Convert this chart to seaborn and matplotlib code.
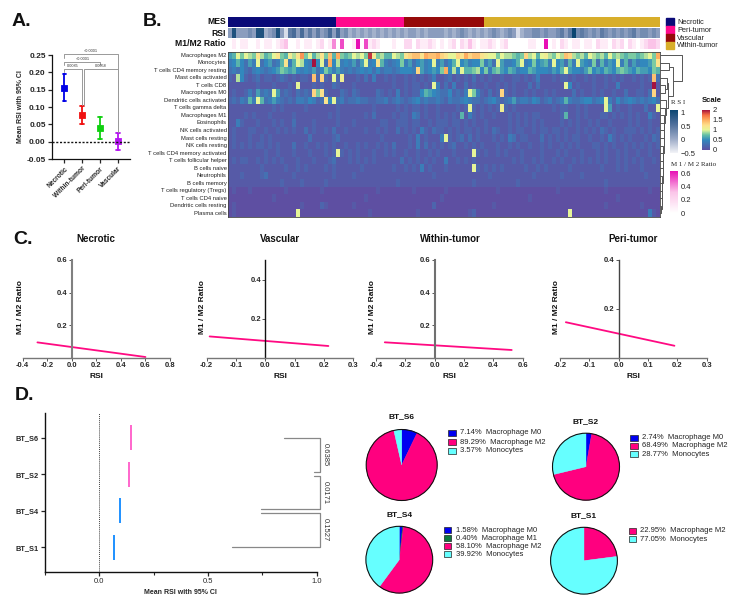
import numpy as np
import pandas as pd
import matplotlib
matplotlib.use('Agg')
import matplotlib.pyplot as plt
from matplotlib.cm import ScalarMappable
from matplotlib.colors import LinearSegmentedColormap, ListedColormap, Normalize
from matplotlib.patches import Circle, Rectangle
import seaborn as sns

sns.set_theme(style='white')
plt.rcParams['font.family'] = ['Liberation Sans', 'DejaVu Sans']

W, H = 738, 603

# Panel A
a_groups = ['Necrotic', 'Within-tumor', 'Peri-tumor', 'Vascular']
a_mean = [0.155, 0.077, 0.040, 0.001]
a_low = [0.117, 0.052, 0.008, -0.025]
a_high = [0.195, 0.102, 0.071, 0.026]
a_colors = ['#0000e6', '#f01010', '#10d010', '#b414f0']

# Panel B, one character per sample, base 36, tenths of the scale
cell_types = ['Macrophages M2', 'Monocytes', 'T cells CD4 memory resting', 'Mast cells activated',
              'T cells CD8', 'Macrophages M0', 'Dendritic cells activated', 'T cells gamma delta',
              'Macrophages M1', 'Eosinophils', 'NK cells activated', 'Mast cells resting',
              'NK cells resting', 'T cells CD4 memory activated', 'T cells follicular helper',
              'B cells naive', 'Neutrophils', 'B cells memory', 'T cells regulatory (Tregs)',
              'T cells CD4 naive', 'Dendritic cells resting', 'Plasma cells']
heat_rows = [
    '67a8a98c97 8ac87b9cg8 a79c8e7f87 8a9a8jb897 7a98cdeecf eefdcaadcf deecbaa8a9 9878d9a7ab 98a9ed9897 a9897a8987 88789a8f',
    '4575364a35 6347c47a95 4k5a3f5945 4636a45c74 3458463564 5a46357a56 4558463a64 457a458567 4a56374a65 4837465a47 3645568c',
    '3435324543 4568767545 4635864643 4345453534 4345554d64 5658f595a7 7895847865 7645576555 4657a65546 8565765787 65766587',
    '2195212312 2123212122 1e2d21a2b1 1121314112 1211212121 2411231212 1312121121 1221212411 1212212112 1211212121 121212e3',
    '1111111211 1211121a11 1212113211 1211111111 1211212212 1a41314113 1211211212 1211131311 1111a51211 1211211411 111211k1',
    '1211242634 3a62321323 2d8c211132 1321111321 2141212257 6543352324 a8421312d2 1211212112 1211113121 1212112113 112213d1',
    '2324374a73 4643232443 5423c5a342 3343322334 2343234534 3343243345 4332345323 4634435423 4234743345 5345a42534 54343453',
    '1111111111 1212111112 1111111211 1111112111 1121212212 1121111212 a2121212b2 1211111111 1212211212 1111a61211 2111311a',
    '1111212111 2111112111 1111121211 1111213111 1212214312 1121212171 4212112111 2121212211 1112711212 1112212121 21211421',
    '1142111211 1212113111 1211111211 1211111122 1122212211 2122212212 1211211111 2121212121 1112121211 2121121111 21211211',
    '1211122112 1121212113 1211213112 1111211212 1131212142 1322121212 2121213211 2122112122 1221211212 1213212112 22121212',
    '1211121121 2111111111 3111112311 1111111121 1111121412 1114a21231 3121112121 4312211131 2121212211 2112142121 21112132',
    '1212121221 2121113112 1121212112 1121211212 1311121413 1212123112 1212111211 2121121121 2112121211 1221212112 12121212',
    '1111111112 1121112111 2111212a21 2121112112 1211211211 2121112111 1a21211212 1112111121 1121211121 1121211212 11211211',
    '1212211212 1212111211 1211123111 2121212111 1113121212 1211411212 1211111111 1212112121 1212112121 2121211212 12121121',
    '1111111121 1111211212 1111212111 1112111111 1211212141 2111211111 1a21212121 1111211212 1111121111 1112111212 11121111',
    '1112111123 1111112111 1111112111 1211111111 1111111111 1211111111 1111121111 1111112111 1112111121 1111111111 11112111',
    '1111111111 1112111121 1111211111 1111111111 1121111111 1111111111 1211111111 1121111111 1111111111 1111211111 11111111',
    '0100010000 0000100000 0001000000 0000000100 0000001000 0000100000 0000000100 0000000000 0010000000 0000100000 00000100',
    '0000000000 0100000000 0000000000 0000100000 0000000000 0001000000 0000000000 0000010000 0000000000 0000000100 00000000',
    '0100000000 0000000010 0002100000 0100000000 0000000000 0200000000 0000001000 0000000000 0000000000 0000100000 00010000',
    '0100000000 0000000a00 0000000000 0000010000 0000000100 0000000000 1200000000 0000000000 00000a0000 0000000000 00000410',
]
rsi_row = '3833343882 3483056363 5353463634 2323232323 2323233232 3333232343 2323234323 4302334434 3345359454 3435434343 45344343'
ratio_row = '0101100101 1012300101 1012014050 0160512100 0100220211 2101012021 3101121012 0000011006 0102101101 1021102120 21012332'
mes_names = ['Necrotic', 'Peri-tumor', 'Vascular', 'Within-tumor']
mes_counts = [27, 17, 20, 44]
mes_colors = ['#0a0a78', '#ff0a8c', '#960a0a', '#d8ae2a']
# nested merges: (height, child, child), a leaf is the row number
row_tree = (22, 0, (13, (9, 1, 2), (8, (7, 3, (5, 4, 5)), (6, 6, (5, 7, (4, 8, (4, 9, (3.5, 10, (3.5, 11, (3, 12, (3, 13, (2.5, 14, (2.5, 15, (2, 16, (2, 17, (1.5, 18, (1.5, 19, (1, 20, 21))))))))))))))))))

# Panel C
c_titles = ['Necrotic', 'Vascular', 'Within-tumor', 'Peri-tumor']
c_line_x = [[-0.28, 0.60], [-0.19, 0.215], [-0.34, 0.525], [-0.18, 0.19]]
c_line_y = [[0.093, 0.003], [0.108, 0.059], [0.096, 0.049], [0.146, 0.050]]
c_xticks = [[-0.4, -0.2, 0.0, 0.2, 0.4, 0.6, 0.8], [-0.2, -0.1, 0.0, 0.1, 0.2, 0.3],
            [-0.4, -0.2, 0.0, 0.2, 0.4, 0.6], [-0.2, -0.1, 0.0, 0.1, 0.2, 0.3]]
c_yticks = [[0.2, 0.4, 0.6], [0.2, 0.4], [0.2, 0.4, 0.6], [0.2, 0.4]]
c_ytop = [0.6, 0.5, 0.6, 0.4]
c_spine = ['#808080', '#111111', '#707070', '#444444']

# Panel D forest
d_samples = ['BT_S6', 'BT_S2', 'BT_S4', 'BT_S1']
d_rsi = [0.145, 0.137, 0.095, 0.068]
d_colors = ['#ff66cc', '#ff66cc', '#1e90ff', '#1e90ff']
d_pvals = ['0.6385', '0.0171', '0.1527']

# Panel D pies
pie_names = {'BT_S6': ['Macrophage M0', 'Macrophage M2', 'Monocytes'],
             'BT_S2': ['Macrophage M0', 'Macrophage M2', 'Monocytes'],
             'BT_S4': ['Macrophage M0', 'Macrophage M1', 'Macrophage M2', 'Monocytes'],
             'BT_S1': ['Macrophage M2', 'Monocytes']}
pie_values = {'BT_S6': [7.14, 89.29, 3.57],
              'BT_S2': [2.74, 68.49, 28.77],
              'BT_S4': [1.58, 0.40, 58.10, 39.92],
              'BT_S1': [22.95, 77.05]}
pie_colors = {'Macrophage M0': '#0000f0', 'Macrophage M1': '#0b7a3e',
              'Macrophage M2': '#ff007f', 'Monocytes': '#66ffff'}


def decode(row):
    return [int(c, 36) / 10 for c in row.replace(' ', '')]


fig = plt.figure(figsize=(W / 100, H / 100), dpi=100)


def px_axes(x0, y0, x1, y1):
    return fig.add_axes([x0 / W, 1 - y1 / H, (x1 - x0) / W, (y1 - y0) / H])


# page axes in pixels, only for loose text and legend keys
page = fig.add_axes([0, 0, 1, 1], zorder=5)
page.set_xlim(0, W)
page.set_ylim(H, 0)
page.axis('off')
page.patch.set_alpha(0)

for letter, x, y in [('A.', 12, 22), ('B.', 143, 22), ('C.', 13, 239), ('D.', 15, 395)]:
    page.text(x, y, letter, fontsize=14, fontweight='bold', va='center', color='#111111')

# ---- A: mean and CI ----
ax = px_axes(52, 55, 130, 159)
a_long = pd.DataFrame({
    'group': a_groups * 3,
    'rsi': a_low + a_mean + a_high,
})
sns.pointplot(data=a_long, x='group', y='rsi', hue='group', palette=a_colors, order=a_groups,
              estimator='median', errorbar=lambda v: (v.min(), v.max()), capsize=0.22,
              linestyle='none', markers='s', markersize=2.5, err_kws={'linewidth': 1.3},
              legend=False, ax=ax)
ax.axhline(0, color='#111111', ls=(0, (1.5, 1.2)), lw=1)
ax.set_xlim(-0.7, 3.67)
ax.set_ylim(-0.05, 0.25)
ax.set_yticks([-0.05, 0, 0.05, 0.10, 0.15, 0.20, 0.25])
ax.set_yticklabels(['-0.05', '0.00', '0.05', '0.10', '0.15', '0.20', '0.25'], fontsize=6, fontweight='bold')
ax.set_xticks(range(4))
ax.set_xticklabels(a_groups, rotation=45, ha='right', rotation_mode='anchor', fontsize=4.8, fontweight='bold')
ax.tick_params(axis='both', length=3, width=0.9, left=True, bottom=True, pad=1.5)
ax.set_xlabel('')
ax.set_ylabel('Mean RSI with 95% CI', fontsize=5, fontweight='bold', labelpad=2)
sns.despine(ax=ax)
for s in ['left', 'bottom']:
    ax.spines[s].set_color('#111111')
    ax.spines[s].set_linewidth(0.9)
for x0, x1, top, foot0, foot1, label in [(0, 3, 0.254, 0.24, 0.029, '<0.0001'),
                                         (0, 2, 0.230, 0.22, 0.222, '<0.0001'),
                                         (0, 0.97, 0.209, 0.20, 0.105, '0.0085'),
                                         (1.07, 3, 0.209, 0.105, 0.029, '0.0058')]:
    ax.plot([x0, x0, x1, x1], [foot0, top, top, foot1], color='#999999', lw=0.7, clip_on=False)
    ax.text((x0 + x1) / 2, top + 0.003, label, fontsize=2.8, ha='center', va='bottom', color='#333333')

# ---- B: annotation strips ----
ax = px_axes(228, 17, 660, 27)
mes_codes = np.repeat(np.arange(4), mes_counts)
sns.heatmap(mes_codes[None, :], ax=ax, cmap=ListedColormap(mes_colors), vmin=-0.5, vmax=3.5, cbar=False,
            xticklabels=False, yticklabels=False)

rsi_cmap = LinearSegmentedColormap.from_list('rsi', ['#f2f3f7', '#9aa9c6', '#4f6f9c', '#0c4672'])
ratio_cmap = LinearSegmentedColormap.from_list('ratio', ['#ffffff', '#fbc4e8', '#e80fb5'])
scale_cmap = LinearSegmentedColormap.from_list('scale', [(0, '#5e4fa2'), (0.25, '#3288bd'), (0.38, '#66c2a5'),
                                                         (0.5, '#e6f598'), (0.62, '#fee08b'), (0.75, '#fdae61'),
                                                         (0.88, '#f46d43'), (1, '#a3123f')])
ax = px_axes(228, 28, 660, 38)
sns.heatmap(np.array(decode(rsi_row))[None, :], ax=ax, cmap=rsi_cmap, vmin=-0.1, vmax=0.9, cbar=False,
            xticklabels=False, yticklabels=False)
ax = px_axes(228, 39, 660, 49)
sns.heatmap(np.array(decode(ratio_row))[None, :], ax=ax, cmap=ratio_cmap, vmin=0, vmax=0.6, cbar=False,
            xticklabels=False, yticklabels=False)
for name, y in [('MES', 22), ('RSI', 33), ('M1/M2 Ratio', 44)]:
    page.text(226, y, name, fontsize=6.2, fontweight='bold', ha='right', va='center', color='#111111')

# ---- B: main heatmap ----
ax = px_axes(228, 51.5, 660, 217)
heat = pd.DataFrame([decode(r) for r in heat_rows], index=cell_types)
sns.heatmap(heat, ax=ax, cmap=scale_cmap, vmin=0, vmax=2, cbar=False, xticklabels=False, yticklabels=True)
ax.set_yticklabels(cell_types, fontsize=4.2, rotation=0, color='#222222')
ax.tick_params(axis='y', length=0, pad=1)
for s in ax.spines.values():
    s.set_visible(True)
    s.set_color('#444444')
    s.set_linewidth(0.6)

# dendrogram right of the heatmap
dax = px_axes(660, 51.5, 683, 217)
dax.set_xlim(0, 23)
dax.set_ylim(22, 0)
dax.axis('off')


def draw_node(node):
    if not isinstance(node, tuple):
        return node + 0.5, 0
    h, a, b = node
    ya, ha = draw_node(a)
    yb, hb = draw_node(b)
    dax.plot([ha, h, h, hb], [ya, ya, yb, yb], color='#555555', lw=0.7, clip_on=False)
    return (ya + yb) / 2, h


draw_node(row_tree)

# MES legend
for name, col, y in zip(mes_names, mes_colors, [22, 30, 38, 45.7]):
    page.add_patch(Rectangle((666, y - 4), 8, 7.6, color=col))
    page.text(677, y, name, fontsize=5.3, va='center', color='#222222')


def small_bar(x0, y0, x1, y1, cmap, vmin, vmax, ticks, labels):
    cax = px_axes(x0, y0, x1, y1)
    cb = fig.colorbar(ScalarMappable(Normalize(vmin, vmax), cmap), cax=cax, ticks=ticks)
    cb.outline.set_visible(False)
    cb.ax.set_yticklabels(labels, fontsize=5.5, color='#222222')
    cb.ax.tick_params(length=0, pad=2)


small_bar(670, 110, 678, 153, rsi_cmap, -0.5, 1.1, [-0.5, 0, 0.5, 1], ['\u22120.5', '0', '0.5', '1'])
small_bar(702, 110, 710, 150, scale_cmap, 0, 2, [0, 0.5, 1, 1.5, 2], ['0', '0.5', '1', '1.5', '2'])
small_bar(670, 171, 678, 213, ratio_cmap, 0, 0.63, [0, 0.2, 0.4, 0.6], ['0', '0.2', '0.4', '0.6'])
page.text(671, 102, 'R S I', fontsize=5, family='Liberation Serif', va='center', color='#222222')
page.text(712, 100, 'Scale', fontsize=5.5, fontweight='bold', ha='center', va='center', color='#111111')
page.text(671, 165, 'M 1 / M 2 Ratio', fontsize=5, family='Liberation Serif', va='center', color='#222222')

# ---- C: regression lines ----
c_boxes = [(22.7, 260, 170, 357.5), (206.7, 260, 353.3, 357.5), (376, 260, 522.7, 358), (560, 260, 706.7, 358)]
c_ylabel_x = [21, 202, 372, 556]
c_title_x = [96, 280, 450, 633]
for i, box in enumerate(c_boxes):
    ax = px_axes(*box)
    line = pd.DataFrame({'x': c_line_x[i], 'y': c_line_y[i]})
    sns.lineplot(data=line, x='x', y='y', color='#ff0a82', lw=1.3, ax=ax, errorbar=None)
    ax.set_xlim(c_xticks[i][0], c_xticks[i][-1])
    ax.set_ylim(0, c_ytop[i])
    ax.spines['left'].set_position(('data', 0))
    ax.spines['left'].set_color(c_spine[i])
    ax.spines['left'].set_linewidth(1.5 if i in (0, 2) else 1)
    ax.spines['bottom'].set_color('#777777')
    ax.spines['bottom'].set_linewidth(1)
    sns.despine(ax=ax)
    ax.patch.set_alpha(0)
    ax.set_xticks(c_xticks[i])
    ax.set_xticklabels(['%.1f' % v for v in c_xticks[i]], fontsize=5.5, fontweight='bold')
    ax.set_yticks(c_yticks[i])
    ax.set_yticklabels(['%.1f' % v for v in c_yticks[i]], fontsize=5.5, fontweight='bold')
    ax.tick_params(axis='both', length=2, width=0.7, left=True, bottom=True, pad=1, color='#555555')
    ax.set_xlabel('')
    ax.set_ylabel('')
    page.text((box[0] + box[2]) / 2, 376, 'RSI', fontsize=6, fontweight='bold', ha='center', va='center', color='#111111')
    page.text(c_ylabel_x[i], 307, 'M1 / M2 Ratio', fontsize=6, fontweight='bold', rotation=90,
              ha='center', va='center', color='#111111')
    page.text(c_title_x[i], 238.5, c_titles[i], fontsize=7, fontweight='bold', ha='center', va='center', color='#111111')

# ---- D: forest ----
ax = px_axes(45, 413, 316.7, 571.7)
ax.vlines(d_rsi, np.arange(4) - 0.337, np.arange(4) + 0.337, colors=d_colors, lw=1.4)
ax.axvline(0, color='#444444', ls=(0, (1, 1)), lw=0.7)
ax.set_xlim(-0.25, 1.0)
ax.set_ylim(3.67, -0.677)
ax.set_yticks(range(4))
ax.set_yticklabels(d_samples, fontsize=5.3, fontweight='bold')
ax.set_xticks([0, 0.5, 1.0])
ax.set_xticklabels(['0.0', '0.5', '1.0'], fontsize=5.5)
ax.set_xticks([-0.25, 0.25, 0.75], minor=True)
ax.tick_params(axis='both', which='major', length=3, width=0.9, left=True, bottom=True, pad=1.5)
ax.tick_params(axis='x', which='minor', length=2, width=0.8, bottom=True)
ax.set_xlabel('Mean RSI with 95% CI', fontsize=5, fontweight='bold', labelpad=3)
sns.despine(ax=ax)
for s in ['left', 'bottom']:
    ax.spines[s].set_color('#111111')
    ax.spines[s].set_linewidth(1)
for xa, ya, yb, xb, label, ymid in [(0.85, 0, 0.945, 0.988, d_pvals[0], 0.47),
                                    (0.988, 1.05, 1.955, 0.745, d_pvals[1], 1.5),
                                    (0.745, 2.05, 3.0, 0.612, d_pvals[2], 2.52)]:
    ax.plot([xa, 1.015, 1.015, xb], [ya, ya, yb, yb], color='#888888', lw=0.9, clip_on=False)
    ax.text(1.04, ymid, label, rotation=270, fontsize=5.5, ha='center', va='center', color='#333333', clip_on=False)

# ---- D: pies ----
pie_layout = {'BT_S6': (401.7, 465, 35.5, 416.7, 448, [433, 442, 450.7]),
              'BT_S2': (586, 466.7, 33.5, 421.7, 630, [437.7, 445.7, 454]),
              'BT_S4': (399.3, 559.7, 33.4, 514.3, 443.5, [530, 538.3, 546.3, 554.3]),
              'BT_S1': (584, 560.7, 33.4, 515.3, 628.5, [531, 539.3])}
for sample, (cx, cy, r, title_y, key_x, key_ys) in pie_layout.items():
    ax = px_axes(cx - r, cy - r, cx + r, cy + r)
    names = pie_names[sample]
    wedges, _ = ax.pie(pie_values[sample], colors=[pie_colors[n] for n in names], startangle=90, counterclock=False)
    # seaborn's white style leaves white seams between the slices
    for wedge in wedges:
        wedge.set_edgecolor(wedge.get_facecolor())
        wedge.set_linewidth(0.3)
    ax.set_xlim(-1, 1)
    ax.set_ylim(-1, 1)
    ax.add_patch(Circle((0, 0), 1, fill=False, ec='#111111', lw=0.8, clip_on=False))
    page.text(cx, title_y, sample, fontsize=6, fontweight='bold', ha='center', va='center', color='#111111')
    for name, val, y in zip(names, pie_values[sample], key_ys):
        page.add_patch(Rectangle((key_x, y - 3), 7.5, 6, fc=pie_colors[name], ec='#222222', lw=0.5))
        page.text(key_x + 12, y, '%.2f%%  %s' % (val, name), fontsize=5.5, va='center', color='#222222')

fig.savefig('out.png', dpi=100)
